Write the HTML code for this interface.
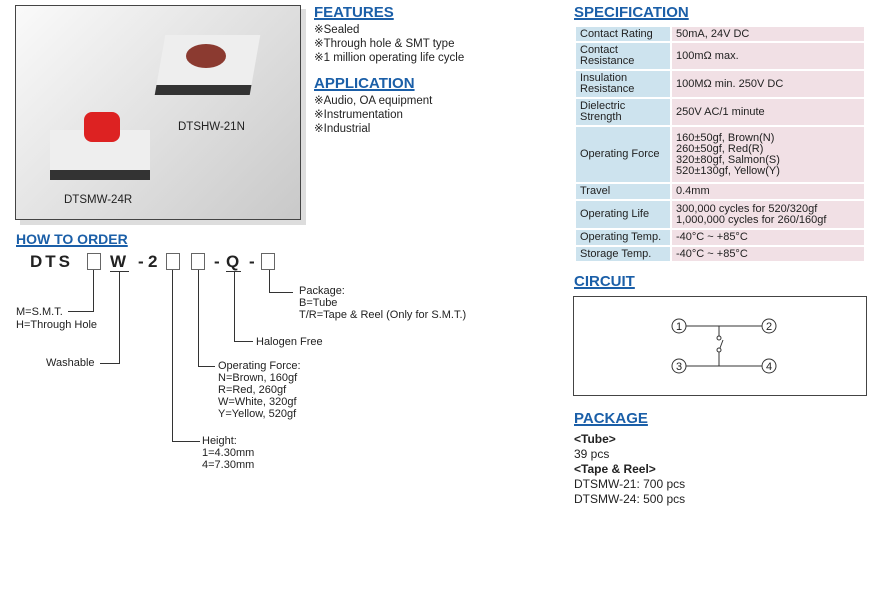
<!DOCTYPE html>
<html><head><meta charset="utf-8"><style>
body{margin:0;width:875px;height:599px;background:#fff;font-family:"Liberation Sans",sans-serif;color:#222;position:relative;overflow:hidden}
.a{position:absolute;white-space:nowrap}
.h{position:absolute;color:#1b5fa8;font-weight:bold;font-size:15px;text-decoration:underline;text-decoration-thickness:2px}
.t{font-size:11.5px;line-height:14px}
.ln{position:absolute;background:#333}
.bx{position:absolute;width:12px;height:15px;border:1px solid #666;background:#fff}
table{position:absolute;left:574px;top:25px;width:292px;border-collapse:collapse;font-size:11px;line-height:11px}
td{border:2px solid #fff;padding:1px 4px;vertical-align:middle}
td:first-child{background:#cde3ee;width:86px}
td:last-child{background:#f1e0e5}
</style></head><body>
<div class="a" style="left:20px;top:9px;width:286px;height:216px;background:#ddd"></div>
<div class="a" style="left:15px;top:5px;width:284px;height:213px;border:1px solid #444;background:linear-gradient(135deg,#fafafa,#c9c9c9)"></div>
<div class="a" style="left:160px;top:35px;width:95px;height:50px;background:#eee;border-bottom:10px solid #333;transform:skewX(-10deg)"></div>
<div class="a" style="left:186px;top:44px;width:40px;height:24px;border-radius:50%;background:#8b3a30"></div>
<div class="a" style="left:50px;top:130px;width:100px;height:40px;background:#eee;border-bottom:10px solid #333"></div>
<div class="a" style="left:84px;top:112px;width:36px;height:30px;border-radius:8px;background:#d22"></div>
<div class="a t" style="left:178px;top:120px">DTSHW-21N</div>
<div class="a t" style="left:64px;top:193px">DTSMW-24R</div>

<div class="h" style="left:314px;top:4px">FEATURES</div>
<div class="a t" style="left:314px;top:23px">※Sealed<br>※Through hole &amp; SMT type<br>※1 million operating life cycle</div>
<div class="h" style="left:314px;top:75px">APPLICATION</div>
<div class="a t" style="left:314px;top:94px">※Audio, OA equipment<br>※Instrumentation<br>※Industrial</div>

<div class="h" style="left:16px;top:231px;font-size:14px">HOW TO ORDER</div>
<div class="a" style="left:30px;top:252px;font-weight:bold;font-size:17px;letter-spacing:3px">DTS</div>
<div class="bx" style="left:87px;top:253px"></div>
<div class="a" style="left:110px;top:252px;font-weight:bold;font-size:17px">W</div>
<div class="a" style="left:138px;top:252px;font-weight:bold;font-size:17px">-</div>
<div class="a" style="left:148px;top:252px;font-weight:bold;font-size:17px">2</div>
<div class="bx" style="left:166px;top:253px"></div>
<div class="bx" style="left:191px;top:253px"></div>
<div class="a" style="left:214px;top:252px;font-weight:bold;font-size:17px">-</div>
<div class="a" style="left:226px;top:252px;font-weight:bold;font-size:17px">Q</div>
<div class="a" style="left:249px;top:252px;font-weight:bold;font-size:17px">-</div>
<div class="bx" style="left:261px;top:253px"></div>
<!-- lines -->
<div class="ln" style="left:93px;top:270px;width:1px;height:42px"></div>
<div class="ln" style="left:68px;top:311px;width:26px;height:1px"></div>
<div class="ln" style="left:110px;top:271px;width:19px;height:1px"></div>
<div class="ln" style="left:119px;top:271px;width:1px;height:93px"></div>
<div class="ln" style="left:100px;top:363px;width:20px;height:1px"></div>
<div class="ln" style="left:172px;top:270px;width:1px;height:172px"></div>
<div class="ln" style="left:172px;top:441px;width:28px;height:1px"></div>
<div class="ln" style="left:198px;top:270px;width:1px;height:97px"></div>
<div class="ln" style="left:198px;top:366px;width:17px;height:1px"></div>
<div class="ln" style="left:226px;top:271px;width:15px;height:1px"></div>
<div class="ln" style="left:234px;top:271px;width:1px;height:71px"></div>
<div class="ln" style="left:234px;top:341px;width:19px;height:1px"></div>
<div class="ln" style="left:269px;top:270px;width:1px;height:23px"></div>
<div class="ln" style="left:269px;top:292px;width:24px;height:1px"></div>
<div class="a t" style="left:16px;top:306px;font-size:11px;line-height:13px">M=S.M.T.<br>H=Through Hole</div>
<div class="a t" style="left:46px;top:356px;font-size:11px">Washable</div>
<div class="a t" style="left:299px;top:285px;font-size:11px;line-height:12px">Package:<br>B=Tube<br>T/R=Tape &amp; Reel (Only for S.M.T.)</div>
<div class="a t" style="left:256px;top:335px;font-size:11px">Halogen Free</div>
<div class="a t" style="left:218px;top:360px;font-size:11px;line-height:12px">Operating Force:<br>N=Brown, 160gf<br>R=Red, 260gf<br>W=White, 320gf<br>Y=Yellow, 520gf</div>
<div class="a t" style="left:202px;top:435px;font-size:11px;line-height:12px">Height:<br>1=4.30mm<br>4=7.30mm</div>

<div class="h" style="left:574px;top:4px">SPECIFICATION</div>
<table>
<tr style="height:16px"><td>Contact Rating</td><td>50mA, 24V DC</td></tr>
<tr style="height:28px"><td>Contact<br>Resistance</td><td>100mΩ max.</td></tr>
<tr style="height:28px"><td>Insulation<br>Resistance</td><td>100MΩ min. 250V DC</td></tr>
<tr style="height:28px"><td>Dielectric<br>Strength</td><td>250V AC/1 minute</td></tr>
<tr style="height:57px"><td>Operating Force</td><td>160±50gf, Brown(N)<br>260±50gf, Red(R)<br>320±80gf, Salmon(S)<br>520±130gf, Yellow(Y)</td></tr>
<tr style="height:17px"><td>Travel</td><td>0.4mm</td></tr>
<tr style="height:29px"><td>Operating Life</td><td>300,000 cycles for 520/320gf<br>1,000,000 cycles for 260/160gf</td></tr>
<tr style="height:17px"><td>Operating Temp.</td><td>-40°C ~ +85°C</td></tr>
<tr style="height:16px"><td>Storage Temp.</td><td>-40°C ~ +85°C</td></tr>
</table>

<div class="h" style="left:574px;top:273px">CIRCUIT</div>
<div class="a" style="left:573px;top:296px;width:292px;height:98px;border:1px solid #444"></div>
<svg class="a" style="left:573px;top:296px" width="294" height="100">
<g stroke="#333" fill="none" stroke-width="1">
<circle cx="106" cy="30" r="7"/><circle cx="196" cy="30" r="7"/><circle cx="106" cy="70" r="7"/><circle cx="196" cy="70" r="7"/>
<line x1="113" y1="30" x2="189" y2="30"/><line x1="113" y1="70" x2="189" y2="70"/>
<line x1="146" y1="30" x2="146" y2="40"/><circle cx="146" cy="42" r="2"/>
<line x1="146" y1="70" x2="146" y2="56"/><circle cx="146" cy="54" r="2"/>
<line x1="147" y1="52" x2="150" y2="44"/>
</g>
<g font-family="Liberation Sans" font-size="11" fill="#222" text-anchor="middle">
<text x="106" y="34">1</text><text x="196" y="34">2</text><text x="106" y="74">3</text><text x="196" y="74">4</text></g>
</svg>

<div class="h" style="left:574px;top:410px">PACKAGE</div>
<div class="a t" style="left:574px;top:432px;font-size:12px;line-height:15px"><b>&lt;Tube&gt;</b><br>39 pcs<br><b>&lt;Tape &amp; Reel&gt;</b><br>DTSMW-21: 700 pcs<br>DTSMW-24: 500 pcs</div>
</body></html>
